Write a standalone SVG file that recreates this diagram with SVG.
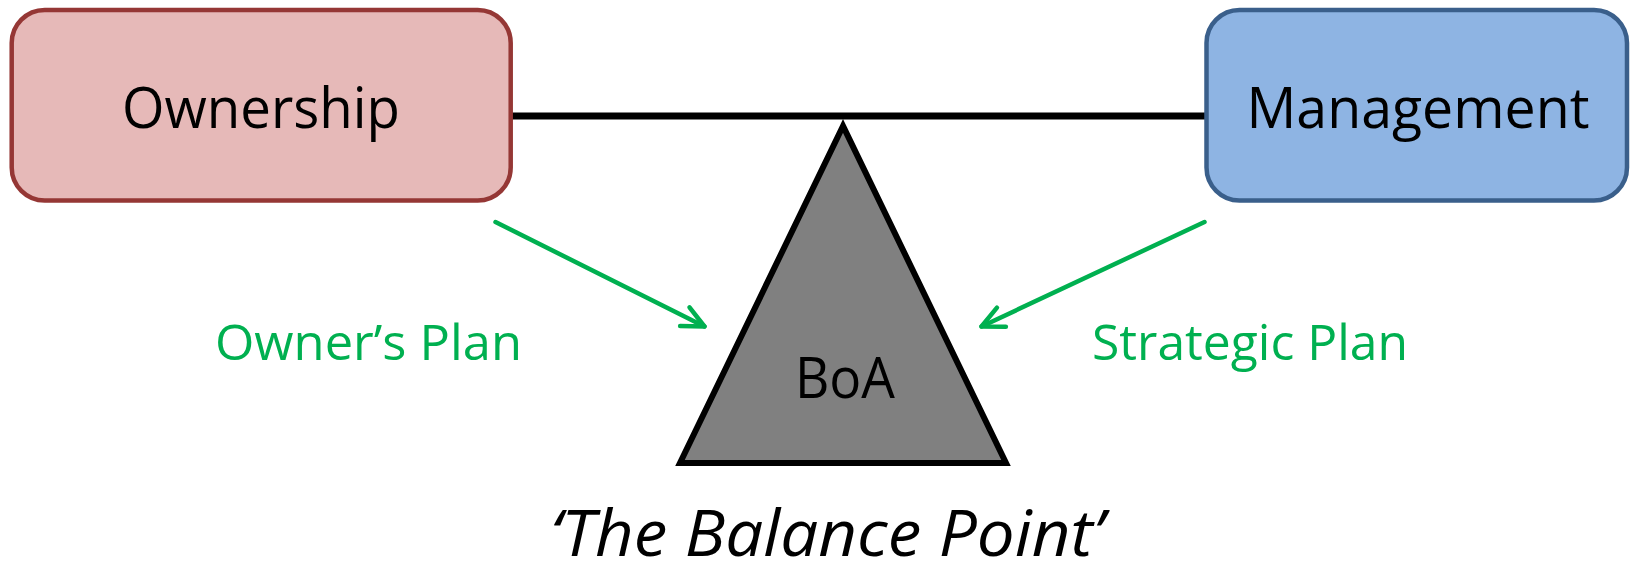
<svg xmlns="http://www.w3.org/2000/svg" width="1636" height="561" viewBox="0 0 1636 561">
<style>
.lbl{font-family:"Open Sans","Noto Sans","Liberation Sans",sans-serif;text-anchor:middle}
.big{font-size:57px;fill:#000}
.grn{font-size:50px;fill:#00B050}
.ital{font-size:64px;font-style:italic;fill:#000}
.conn{fill:none;stroke:#00B050;stroke-width:4.5;stroke-linecap:round;stroke-linejoin:round}
</style>
<defs>
<marker id="vhead" markerUnits="userSpaceOnUse" markerWidth="40" markerHeight="40" viewBox="-30 -20 40 40" refX="0" refY="0" orient="auto">
<path d="M-22,-10.5 L0,0 L-22,10.5" fill="none" stroke="#00B050" stroke-width="4.5" stroke-linecap="round" stroke-linejoin="round"/>
</marker>
</defs>
<rect width="1636" height="561" fill="#fff"/>
<g id="beam">
<line x1="510" y1="116" x2="1207" y2="116" stroke="#000" stroke-width="7"/>
</g>
<g id="ownership">
<rect x="11.7" y="10" width="499" height="190.5" rx="33" ry="33" fill="#E6B9B8" stroke="#953735" stroke-width="4.5"/>
<text class="lbl big" x="261" y="128" textLength="278" lengthAdjust="spacingAndGlyphs">Ownership</text>
</g>
<g id="management">
<rect x="1206.5" y="10" width="420.5" height="190.5" rx="33" ry="33" fill="#8EB4E3" stroke="#3A5F8B" stroke-width="4.5"/>
<text class="lbl big" x="1418" y="128" textLength="343" lengthAdjust="spacingAndGlyphs">Management</text>
</g>
<g id="boa">
<polygon points="843,126 680,463 1006,463" fill="#808080" stroke="#000" stroke-width="6" stroke-linejoin="miter"/>
<text class="lbl big" x="845" y="398" textLength="100" lengthAdjust="spacingAndGlyphs">BoA</text>
</g>
<g id="connectors">
<path class="conn" d="M495.5,222 L704.5,326.5" marker-end="url(#vhead)"/>
<path class="conn" d="M1204.5,222 L981.5,326.5" marker-end="url(#vhead)"/>
</g>
<g id="labels">
<text class="lbl grn" x="368.5" y="360" textLength="307" lengthAdjust="spacingAndGlyphs">Owner’s Plan</text>
<text class="lbl grn" x="1250" y="359.5" textLength="316" lengthAdjust="spacingAndGlyphs">Strategic Plan</text>
<text class="lbl ital" x="827" y="556" textLength="554" lengthAdjust="spacingAndGlyphs">‘The Balance Point’</text>
</g>
</svg>
